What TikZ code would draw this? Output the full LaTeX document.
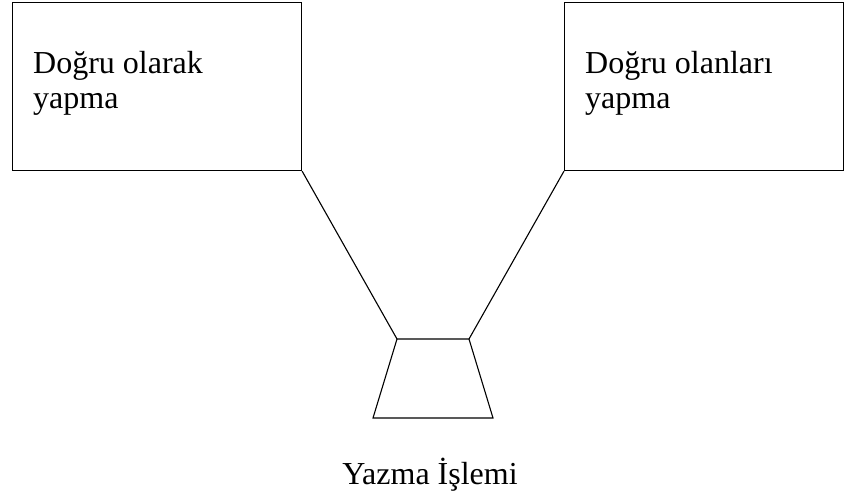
\documentclass[tikz,border=0pt]{standalone}
\usepackage{fontspec}
\setmainfont{Liberation Serif}
\begin{document}
\begin{tikzpicture}[x=1pt,y=-1pt,
  box/.style={draw,line width=1.1pt,rectangle,inner sep=0pt,anchor=north west},
  lbl/.style={anchor=base west,inner sep=0pt,font=\fontsize{32}{35}\selectfont,align=left},
  ln/.style={line width=1.1pt}]
\useasboundingbox (0,0) rectangle (844,499);
\node[box,minimum width=289pt,minimum height=168pt] (L) at (12,2) {};
\node[box,minimum width=279pt,minimum height=168pt] (R) at (564,2) {};
\node[lbl] (Lt) at (33,108) {Doğru olarak\\yapma};
\node[lbl] (Rt) at (585,108) {Doğru olanları\\yapma};
\coordinate (tl) at (397,339);
\coordinate (tr) at (469,339);
\coordinate (bl) at (373,418);
\coordinate (br) at (493,418);
\draw[ln] (L.south east) -- (tl);
\draw[ln] (R.south west) -- (tr);
\draw[ln,line join=miter] (tl) -- (tr) -- (br) -- (bl) -- cycle;
\node[anchor=base,inner sep=0pt,font=\fontsize{32}{35}\selectfont] (Y) at (430,484) {Yazma İşlemi};
\end{tikzpicture}
\end{document}
